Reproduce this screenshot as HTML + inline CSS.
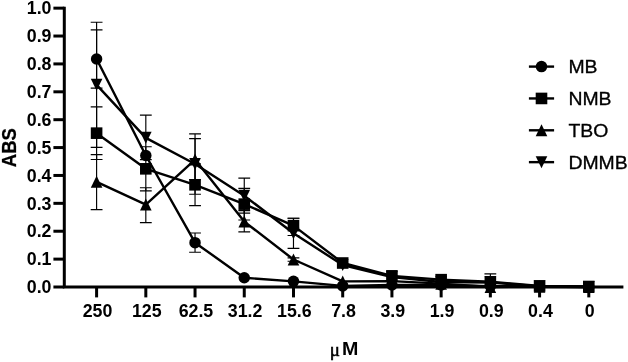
<!DOCTYPE html><html><head><meta charset="utf-8"><title>chart</title><style>html,body{margin:0;padding:0;background:#fff}</style></head><body><svg width="628" height="362" viewBox="0 0 628 362" style="display:block">
<rect width="628" height="362" fill="#fff"/>
<g style="font-family:&quot;Liberation Sans&quot;,Arial,Helvetica,sans-serif" font-weight="bold" fill="#000">
<path d="M64.3 6.65 V287.0 H623.4" fill="none" stroke="#000" stroke-width="3" stroke-linejoin="miter"/>
<line x1="53.4" x2="64.3" y1="287.00" y2="287.00" stroke="#000" stroke-width="3"/>
<text x="51.5" y="293.20" font-size="17.8" text-anchor="end">0.0</text>
<line x1="53.4" x2="64.3" y1="259.12" y2="259.12" stroke="#000" stroke-width="3"/>
<text x="51.5" y="265.31" font-size="17.8" text-anchor="end">0.1</text>
<line x1="53.4" x2="64.3" y1="231.23" y2="231.23" stroke="#000" stroke-width="3"/>
<text x="51.5" y="237.43" font-size="17.8" text-anchor="end">0.2</text>
<line x1="53.4" x2="64.3" y1="203.34" y2="203.34" stroke="#000" stroke-width="3"/>
<text x="51.5" y="209.54" font-size="17.8" text-anchor="end">0.3</text>
<line x1="53.4" x2="64.3" y1="175.46" y2="175.46" stroke="#000" stroke-width="3"/>
<text x="51.5" y="181.66" font-size="17.8" text-anchor="end">0.4</text>
<line x1="53.4" x2="64.3" y1="147.57" y2="147.57" stroke="#000" stroke-width="3"/>
<text x="51.5" y="153.77" font-size="17.8" text-anchor="end">0.5</text>
<line x1="53.4" x2="64.3" y1="119.69" y2="119.69" stroke="#000" stroke-width="3"/>
<text x="51.5" y="125.89" font-size="17.8" text-anchor="end">0.6</text>
<line x1="53.4" x2="64.3" y1="91.81" y2="91.81" stroke="#000" stroke-width="3"/>
<text x="51.5" y="98.01" font-size="17.8" text-anchor="end">0.7</text>
<line x1="53.4" x2="64.3" y1="63.92" y2="63.92" stroke="#000" stroke-width="3"/>
<text x="51.5" y="70.12" font-size="17.8" text-anchor="end">0.8</text>
<line x1="53.4" x2="64.3" y1="36.03" y2="36.03" stroke="#000" stroke-width="3"/>
<text x="51.5" y="42.23" font-size="17.8" text-anchor="end">0.9</text>
<line x1="53.4" x2="64.3" y1="8.15" y2="8.15" stroke="#000" stroke-width="3"/>
<text x="51.5" y="14.35" font-size="17.8" text-anchor="end">1.0</text>
<line x1="96.60" x2="96.60" y1="287.0" y2="297.4" stroke="#000" stroke-width="3"/>
<text x="97.50" y="317" font-size="17.8" text-anchor="middle">250</text>
<line x1="145.82" x2="145.82" y1="287.0" y2="297.4" stroke="#000" stroke-width="3"/>
<text x="146.72" y="317" font-size="17.8" text-anchor="middle">125</text>
<line x1="195.04" x2="195.04" y1="287.0" y2="297.4" stroke="#000" stroke-width="3"/>
<text x="195.94" y="317" font-size="17.8" text-anchor="middle">62.5</text>
<line x1="244.26" x2="244.26" y1="287.0" y2="297.4" stroke="#000" stroke-width="3"/>
<text x="245.16" y="317" font-size="17.8" text-anchor="middle">31.2</text>
<line x1="293.48" x2="293.48" y1="287.0" y2="297.4" stroke="#000" stroke-width="3"/>
<text x="294.38" y="317" font-size="17.8" text-anchor="middle">15.6</text>
<line x1="342.70" x2="342.70" y1="287.0" y2="297.4" stroke="#000" stroke-width="3"/>
<text x="343.60" y="317" font-size="17.8" text-anchor="middle">7.8</text>
<line x1="391.92" x2="391.92" y1="287.0" y2="297.4" stroke="#000" stroke-width="3"/>
<text x="392.82" y="317" font-size="17.8" text-anchor="middle">3.9</text>
<line x1="441.14" x2="441.14" y1="287.0" y2="297.4" stroke="#000" stroke-width="3"/>
<text x="442.04" y="317" font-size="17.8" text-anchor="middle">1.9</text>
<line x1="490.36" x2="490.36" y1="287.0" y2="297.4" stroke="#000" stroke-width="3"/>
<text x="491.26" y="317" font-size="17.8" text-anchor="middle">0.9</text>
<line x1="539.58" x2="539.58" y1="287.0" y2="297.4" stroke="#000" stroke-width="3"/>
<text x="540.48" y="317" font-size="17.8" text-anchor="middle">0.4</text>
<line x1="588.80" x2="588.80" y1="287.0" y2="297.4" stroke="#000" stroke-width="3"/>
<text x="589.70" y="317" font-size="17.8" text-anchor="middle">0</text>
<text transform="translate(15.5,147.67499999999998) rotate(-90) scale(0.95,1)" font-size="19.5" stroke="#000" stroke-width="0.25" text-anchor="middle">ABS</text>
<text x="341.9" y="355.3" font-size="18.9"><tspan style="font-family:&quot;Liberation Serif&quot;,&quot;DejaVu Serif&quot;,serif" font-weight="normal" stroke="#000" stroke-width="0.55" x="340.0" y="356.2" text-anchor="end">μ</tspan></text>
<text transform="translate(341.9,355.3) scale(1.04,1)" font-size="18.9">M</text>
<path d="M96.60 29.90 V88.18 M90.70 29.90 H102.50 M90.70 88.18 H102.50" stroke="#000" stroke-width="1.15" fill="none"/>
<path d="M195.04 233.04 V252.23 M189.14 233.04 H200.94 M189.14 252.23 H200.94" stroke="#000" stroke-width="1.15" fill="none"/>
<path d="M96.60 106.86 V159.48 M90.70 106.86 H102.50 M90.70 159.48 H102.50" stroke="#000" stroke-width="1.15" fill="none"/>
<path d="M145.82 146.74 V190.94 M139.92 146.74 H151.72 M139.92 190.94 H151.72" stroke="#000" stroke-width="1.15" fill="none"/>
<path d="M195.04 163.89 V205.66 M189.14 163.89 H200.94 M189.14 205.66 H200.94" stroke="#000" stroke-width="1.15" fill="none"/>
<path d="M244.26 188.31 V219.99 M238.36 188.31 H250.16 M238.36 219.99 H250.16" stroke="#000" stroke-width="1.15" fill="none"/>
<path d="M293.48 218.24 V235.52 M287.58 218.24 H299.38 M287.58 235.52 H299.38" stroke="#000" stroke-width="1.15" fill="none"/>
<path d="M96.60 154.63 V209.65 M90.70 154.63 H102.50 M90.70 209.65 H102.50" stroke="#000" stroke-width="1.15" fill="none"/>
<path d="M145.82 187.73 V222.64 M139.92 187.73 H151.72 M139.92 222.64 H151.72" stroke="#000" stroke-width="1.15" fill="none"/>
<path d="M195.04 138.57 V179.64 M189.14 138.57 H200.94 M189.14 179.64 H200.94" stroke="#000" stroke-width="1.15" fill="none"/>
<path d="M244.26 210.60 V231.93 M238.36 210.60 H250.16 M238.36 231.93 H250.16" stroke="#000" stroke-width="1.15" fill="none"/>
<path d="M293.48 257.86 V261.21 M287.58 257.86 H299.38 M287.58 261.21 H299.38" stroke="#000" stroke-width="1.15" fill="none"/>
<path d="M96.60 22.23 V147.38 M90.70 22.23 H102.50 M90.70 147.38 H102.50" stroke="#000" stroke-width="1.15" fill="none"/>
<path d="M145.82 115.09 V159.65 M139.92 115.09 H151.72 M139.92 159.65 H151.72" stroke="#000" stroke-width="1.15" fill="none"/>
<path d="M195.04 133.83 V194.25 M189.14 133.83 H200.94 M189.14 194.25 H200.94" stroke="#000" stroke-width="1.15" fill="none"/>
<path d="M244.26 178.16 V213.19 M238.36 178.16 H250.16 M238.36 213.19 H250.16" stroke="#000" stroke-width="1.15" fill="none"/>
<path d="M293.48 218.24 V248.41 M287.58 218.24 H299.38 M287.58 248.41 H299.38" stroke="#000" stroke-width="1.15" fill="none"/>
<path d="M490.36 273.89 V287.00 M484.46 273.89 H496.26 M484.46 287.00 H496.26" stroke="#000" stroke-width="1.15" fill="none"/>
<path d="M96.60 59.04 L145.82 155.47 L195.04 242.66 L244.26 277.71 L293.48 281.37 L342.70 285.88 L391.92 285.05 L441.14 285.05 L490.36 286.16 L539.58 286.44 L588.80 287.00" fill="none" stroke="#000" stroke-width="2.4" stroke-linejoin="round"/>
<circle cx="96.60" cy="59.04" r="5.75"/>
<circle cx="145.82" cy="155.47" r="5.75"/>
<circle cx="195.04" cy="242.66" r="5.75"/>
<circle cx="244.26" cy="277.71" r="5.75"/>
<circle cx="293.48" cy="281.37" r="5.75"/>
<circle cx="342.70" cy="285.88" r="5.75"/>
<circle cx="391.92" cy="285.05" r="5.75"/>
<circle cx="441.14" cy="285.05" r="5.75"/>
<circle cx="490.36" cy="286.16" r="5.75"/>
<circle cx="539.58" cy="286.44" r="5.75"/>
<circle cx="588.80" cy="287.00" r="5.75"/>
<path d="M96.60 133.16 L145.82 168.82 L195.04 184.80 L244.26 204.15 L293.48 225.65 L342.70 263.02 L391.92 275.85 L441.14 279.67 L490.36 281.81 L539.58 286.00 L588.80 286.50" fill="none" stroke="#000" stroke-width="2.4" stroke-linejoin="round"/>
<rect x="90.80" y="127.36" width="11.6" height="11.6"/>
<rect x="140.02" y="163.02" width="11.6" height="11.6"/>
<rect x="189.24" y="179.00" width="11.6" height="11.6"/>
<rect x="238.46" y="198.35" width="11.6" height="11.6"/>
<rect x="287.68" y="219.85" width="11.6" height="11.6"/>
<rect x="336.90" y="257.22" width="11.6" height="11.6"/>
<rect x="386.12" y="270.05" width="11.6" height="11.6"/>
<rect x="435.34" y="273.87" width="11.6" height="11.6"/>
<rect x="484.56" y="276.01" width="11.6" height="11.6"/>
<rect x="533.78" y="280.20" width="11.6" height="11.6"/>
<rect x="583.00" y="280.70" width="11.6" height="11.6"/>
<path d="M96.60 181.87 L145.82 204.60 L195.04 159.57 L244.26 221.58 L293.48 259.51 L342.70 281.42 L391.92 281.14 L441.14 283.65 L490.36 287.00 L539.58 286.72 L588.80 287.00" fill="none" stroke="#000" stroke-width="2.4" stroke-linejoin="round"/>
<path d="M96.60 175.87 L102.40 187.87 H90.80 Z"/>
<path d="M145.82 198.60 L151.62 210.60 H140.02 Z"/>
<path d="M195.04 153.57 L200.84 165.57 H189.24 Z"/>
<path d="M244.26 215.58 L250.06 227.58 H238.46 Z"/>
<path d="M293.48 253.51 L299.28 265.51 H287.68 Z"/>
<path d="M342.70 275.42 L348.50 287.42 H336.90 Z"/>
<path d="M391.92 275.14 L397.72 287.14 H386.12 Z"/>
<path d="M441.14 277.65 L446.94 289.65 H435.34 Z"/>
<path d="M490.36 281.00 L496.16 293.00 H484.56 Z"/>
<path d="M539.58 280.72 L545.38 292.72 H533.78 Z"/>
<path d="M588.80 281.00 L594.60 293.00 H583.00 Z"/>
<path d="M96.60 84.81 L145.82 137.87 L195.04 164.03 L244.26 195.68 L293.48 233.32 L342.70 265.00 L391.92 276.96 L441.14 281.98 L490.36 282.54 L539.58 286.16 L588.80 287.00" fill="none" stroke="#000" stroke-width="2.4" stroke-linejoin="round"/>
<path d="M96.60 90.81 L102.40 78.81 H90.80 Z"/>
<path d="M145.82 143.87 L151.62 131.87 H140.02 Z"/>
<path d="M195.04 170.03 L200.84 158.03 H189.24 Z"/>
<path d="M244.26 201.68 L250.06 189.68 H238.46 Z"/>
<path d="M293.48 239.32 L299.28 227.32 H287.68 Z"/>
<path d="M342.70 271.00 L348.50 259.00 H336.90 Z"/>
<path d="M391.92 282.96 L397.72 270.96 H386.12 Z"/>
<path d="M441.14 287.98 L446.94 275.98 H435.34 Z"/>
<path d="M490.36 288.54 L496.16 276.54 H484.56 Z"/>
<path d="M539.58 292.16 L545.38 280.16 H533.78 Z"/>
<path d="M588.80 293.00 L594.60 281.00 H583.00 Z"/>
<line x1="528.9" x2="554.1" y1="66.60" y2="66.60" stroke="#000" stroke-width="2.4"/>
<circle cx="541.50" cy="66.60" r="5.75"/>
<text transform="translate(568.4,73.10) scale(1.11,1)" font-size="17.5" font-weight="normal" stroke="#000" stroke-width="0.3">MB</text>
<line x1="528.9" x2="554.1" y1="98.45" y2="98.45" stroke="#000" stroke-width="2.4"/>
<rect x="535.70" y="92.65" width="11.6" height="11.6"/>
<text transform="translate(568.4,104.95) scale(1.11,1)" font-size="17.5" font-weight="normal" stroke="#000" stroke-width="0.3">NMB</text>
<line x1="528.9" x2="554.1" y1="130.30" y2="130.30" stroke="#000" stroke-width="2.4"/>
<path d="M541.50 124.30 L547.30 136.30 H535.70 Z"/>
<text transform="translate(568.4,136.80) scale(1.11,1)" font-size="17.5" font-weight="normal" stroke="#000" stroke-width="0.3">TBO</text>
<line x1="528.9" x2="554.1" y1="162.15" y2="162.15" stroke="#000" stroke-width="2.4"/>
<path d="M541.50 168.15 L547.30 156.15 H535.70 Z"/>
<text transform="translate(568.4,168.65) scale(1.11,1)" font-size="17.5" font-weight="normal" stroke="#000" stroke-width="0.3">DMMB</text>
</g></svg></body></html>
